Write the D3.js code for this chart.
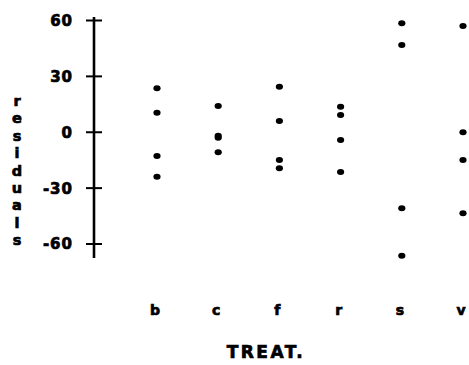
<!DOCTYPE html>
<html>
<head>
<meta charset="utf-8">
<script src="https://cdn.jsdelivr.net/npm/d3@7"></script>
<style>
  html, body { margin: 0; padding: 0; background: #fff; }
  svg { display: block; }
  text { font-family: "DejaVu Sans", sans-serif; font-weight: bold; fill: #000; stroke: #000; stroke-width: 0.7px; }
</style>
</head>
<body>
<svg id="chart" width="469" height="365"></svg>
<script>
// Treatment groups and the residuals observed in each
const treatments = ["b", "c", "f", "r", "s", "v"];
const resB = [23.3, 10.2, -13.0, -24.1];
const resC = [13.8, -2.2, -3.2, -11.0];
const resF = [24.2, 5.8, -15.2, -19.6];
const resR = [13.4, 9.0, -4.4, -21.6];
const resS = [58.2, 46.6, -41.1, -66.6];
const resV = [56.8, -0.3, -15.2, -43.8];
const yTicks = [60, 30, 0, -30, -60];
const yLabel = "residuals";
const xLabel = "TREAT.";

const groups = [resB, resC, resF, resR, resS, resV];
const points = [];
treatments.forEach((t, i) => groups[i].forEach(v => points.push({ t, v })));

const svg = d3.select("#chart");

const x = d3.scalePoint().domain(treatments).range([157, 463]);
const y = d3.scaleLinear().domain([-60, 60]).range([243.5, 20]);

// vertical axis: spine runs a little past the outer ticks
const axisX = 94;
const axisG = svg.append("g").attr("transform", `translate(${axisX},0)`);
axisG.append("line")
  .attr("x1", 0).attr("x2", 0)
  .attr("y1", y(61.6)).attr("y2", y(-67.8))
  .attr("stroke", "#000").attr("stroke-width", 2.6);

// plain hyphen for negatives, as a plotter font would draw it
const yAxis = d3.axisLeft(y).tickValues(yTicks).tickSize(8).tickPadding(13)
  .tickFormat(d => String(d));
const tickG = axisG.append("g").call(yAxis);
tickG.select(".domain").remove();
tickG.selectAll(".tick line")
  .attr("x1", -8).attr("x2", 8)
  .attr("stroke", "#000").attr("stroke-width", 2);
tickG.selectAll(".tick text")
  .attr("font-size", 15)
  .attr("font-family", "DejaVu Sans, sans-serif")
  .attr("font-weight", "bold")
  .attr("fill", "#000")
  .attr("letter-spacing", 1)
  .attr("dy", "0.36em");

// residual dots
svg.append("g").selectAll("ellipse")
  .data(points)
  .join("ellipse")
  .attr("cx", d => x(d.t))
  .attr("cy", d => y(d.v))
  .attr("rx", 3.6)
  .attr("ry", 3)
  .attr("fill", "#000");

// category labels
svg.append("g").selectAll("text")
  .data(treatments)
  .join("text")
  .attr("x", d => x(d) - 2)
  .attr("y", 315)
  .attr("text-anchor", "middle")
  .attr("font-size", 14)
  .text(d => d);

// axis titles
svg.append("text")
  .attr("x", 266).attr("y", 358)
  .attr("text-anchor", "middle")
  .attr("font-size", 17)
  .attr("letter-spacing", 2.5)
  .text(xLabel);

const yl = svg.append("text")
  .attr("text-anchor", "middle")
  .attr("font-size", 14.5);
yLabel.split("").forEach((ch, i) => {
  yl.append("tspan")
    .attr("x", 17)
    .attr("y", 106 + i * 17.4)
    .text(ch);
});
</script>
</body>
</html>
